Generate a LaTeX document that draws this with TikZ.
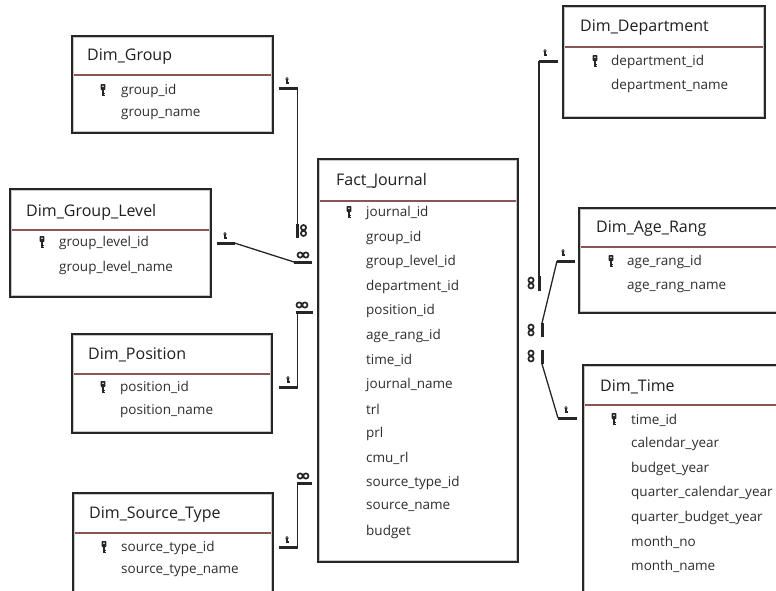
\documentclass[tikz,border=0pt]{standalone}
\usepackage{fontspec}
\setmainfont{Open Sans}
\usetikzlibrary{calc}
\tikzset{
  tbl/.style={draw=black!85, line width=1.5pt, fill=white, inner sep=0pt, anchor=north west},
  inr/.style={draw=black!22, line width=1pt},
  sepl/.style={draw={rgb,255:red,140;green,85;blue,85}, line width=1.3pt},
  ttl/.style={anchor=west, inner sep=0pt, font=\fontsize{16}{17}\selectfont, text=black!88},
  fld/.style={anchor=west, inner sep=0pt, font=\fontsize{13.5}{14}\selectfont, text=black!82},
  conn/.style={draw=black!85, line width=1.3pt},
  stub/.style={draw=black!85, line width=3pt},
  keyicon/.pic={
    \fill[black!85, rounded corners=0.8pt] (-2.4,-6.5) rectangle (2.4,-0.5);
    \fill[black!85] (-1.1,-1) rectangle (1.1,5.5);
    \fill[black!85] (1,2) rectangle (2.4,3.2);
    \fill[black!85] (1,4) rectangle (2.4,5.2);
    \fill[white] (0,-4.3) circle (0.9);
  },
  infsym/.pic={
    \draw[black!85, line width=1.7pt] (-2.9,0) circle (2.6) (2.9,0) circle (2.6);
  }
}
\begin{document}
\begin{tikzpicture}[x=1pt,y=-1pt]
\useasboundingbox (0,0) rectangle (776,590);
\clip (0,0) rectangle (776,590);

% ---------- tables ----------
% Dim_Group
\node[tbl, minimum width=201pt, minimum height=97pt] (dg) at (71,35) {};
\draw[inr] ([shift={(2.5,2.5)}]dg.north west) rectangle ([shift={(-2.5,-2.5)}]dg.south east);
\draw[sepl] ([xshift=3pt]dg.west |- 0,75) -- ([xshift=-3pt]dg.east |- 0,75);
\node[ttl] (dg-t) at (87,57) {Dim\_Group};
\pic at (103,90.5) {keyicon};
\node[fld] (dg-1) at (121,91) {group\_id};
\node[fld] (dg-2) at (121,114.5) {group\_name};

% Dim_Group_Level
\node[tbl, minimum width=201pt, minimum height=108pt] (dgl) at (9,188) {};
\draw[inr] ([shift={(2.5,2.5)}]dgl.north west) rectangle ([shift={(-2.5,-2.5)}]dgl.south east);
\draw[sepl] ([xshift=3pt]dgl.west |- 0,230) -- ([xshift=-3pt]dgl.east |- 0,230);
\node[ttl] (dgl-t) at (26,212) {Dim\_Group\_Level};
\pic at (42,242.5) {keyicon};
\node[fld] (dgl-1) at (59,243) {group\_level\_id};
\node[fld] (dgl-2) at (59,268) {group\_level\_name};

% Dim_Position
\node[tbl, minimum width=200pt, minimum height=99pt] (dp) at (71,333) {};
\draw[inr] ([shift={(2.5,2.5)}]dp.north west) rectangle ([shift={(-2.5,-2.5)}]dp.south east);
\draw[sepl] ([xshift=3pt]dp.west |- 0,374) -- ([xshift=-3pt]dp.east |- 0,374);
\node[ttl] (dp-t) at (88,355) {Dim\_Position};
\pic at (103,387.5) {keyicon};
\node[fld] (dp-1) at (120,388) {position\_id};
\node[fld] (dp-2) at (120,411) {position\_name};

% Dim_Source_Type
\node[tbl, minimum width=200pt, minimum height=110pt] (ds) at (72,492) {};
\draw[inr] ([shift={(2.5,2.5)}]ds.north west) rectangle ([shift={(-2.5,-2.5)}]ds.south east);
\draw[sepl] ([xshift=3pt]ds.west |- 0,533) -- ([xshift=-3pt]ds.east |- 0,533);
\node[ttl] (ds-t) at (89,515) {Dim\_Source\_Type};
\pic at (104,547.5) {keyicon};
\node[fld] (ds-1) at (121,548) {source\_type\_id};
\node[fld] (ds-2) at (121,570.5) {source\_type\_name};

% Fact_Journal
\node[tbl, minimum width=200pt, minimum height=403pt] (fj) at (317,158) {};
\draw[inr] ([shift={(2.5,2.5)}]fj.north west) rectangle ([shift={(-2.5,-2.5)}]fj.south east);
\draw[sepl] ([xshift=3pt]fj.west |- 0,201) -- ([xshift=-3pt]fj.east |- 0,201);
\node[ttl] (fj-t) at (336,181) {Fact\_Journal};
\pic at (349,212.5) {keyicon};
\foreach \t [count=\i from 0] in {journal\_id, group\_id, group\_level\_id, department\_id,
  position\_id, age\_rang\_id, time\_id, journal\_name, trl, prl, cmu\_rl,
  source\_type\_id, source\_name, budget}
  \node[fld] (fj-\i) at (366,213+24.5*\i) {\t};

% Dim_Department
\node[tbl, minimum width=202pt, minimum height=112pt] (dd) at (562,5) {};
\draw[inr] ([shift={(2.5,2.5)}]dd.north west) rectangle ([shift={(-2.5,-2.5)}]dd.south east);
\draw[sepl] ([xshift=3pt]dd.west |- 0,47) -- ([xshift=-3pt]dd.east |- 0,47);
\node[ttl] (dd-t) at (580,28) {Dim\_Department};
\pic at (595,61.5) {keyicon};
\node[fld] (dd-1) at (611,62) {department\_id};
\node[fld] (dd-2) at (611,86) {department\_name};

% Dim_Age_Rang
\node[tbl, minimum width=212pt, minimum height=105pt] (da) at (578,207) {};
\draw[inr] ([shift={(2.5,2.5)}]da.north west) rectangle ([shift={(-2.5,-2.5)}]da.south east);
\draw[sepl] ([xshift=3pt]da.west |- 0,247) -- ([xshift=-3pt]da.east |- 0,247);
\node[ttl] (da-t) at (596,229) {Dim\_Age\_Rang};
\pic at (611,261.5) {keyicon};
\node[fld] (da-1) at (627,262) {age\_rang\_id};
\node[fld] (da-2) at (627,287) {age\_rang\_name};

% Dim_Time
\node[tbl, minimum width=208pt, minimum height=236pt] (dt) at (582,364) {};
\draw[inr] ([shift={(2.5,2.5)}]dt.north west) rectangle ([shift={(-2.5,-2.5)}]dt.south east);
\draw[sepl] ([xshift=3pt]dt.west |- 0,405) -- ([xshift=-3pt]dt.east |- 0,405);
\node[ttl] (dt-t) at (600,387) {Dim\_Time};
\pic at (614,419.5) {keyicon};
\foreach \t [count=\i from 0] in {time\_id, calendar\_year, budget\_year,
  quarter\_calendar\_year, quarter\_budget\_year, month\_no, month\_name}
  \node[fld] (dt-\i) at (631,420+24.4*\i) {\t};

% ---------- relationships ----------
% Dim_Group -> Fact (group_id)
\draw[stub] ([xshift=5pt]dg.east |- 0,88) -- ++(19,0) coordinate (c1b);
\pic[scale=0.55] at (287,81) {keyicon};
\draw[conn] (c1b) -- (c1b |- 0,238) coordinate (c1c);
\draw[stub] (c1c) -- ++(0,-14);
\pic[rotate=90] at (303.5,230.5) {infsym};

% Dim_Group_Level -> Fact (group_level_id)
\draw[stub] ([xshift=5pt]dgl.east |- 0,243) -- ++(18,0) coordinate (c2b);
\pic[scale=0.55] at (225,236) {keyicon};
\coordinate (c2c) at (294,262);
\draw[conn] (c2b) -- (c2c);
\draw[stub] (c2c) -- ([xshift=-5pt]fj.west |- 0,262);
\pic at (303,255) {infsym};

% Dim_Position -> Fact (position_id)
\draw[stub] ([xshift=6pt]dp.east |- 0,387) -- ++(19,0) coordinate (c3b);
\pic[scale=0.55] at (288,380) {keyicon};
\draw[conn] (c3b) -- (c3b |- 0,312) coordinate (c3c);
\draw[stub] ([xshift=-2pt]c3c) -- ([xshift=-4pt]fj.west |- 0,312);
\pic at (302,305) {infsym};

% Dim_Source_Type -> Fact (source_type_id)
\draw[stub] ([xshift=5pt]ds.east |- 0,547) -- ++(19,0) coordinate (c4b);
\pic[scale=0.55] at (287,540) {keyicon};
\draw[conn] (c4b) -- (c4b |- 0,483) coordinate (c4c);
\draw[stub] ([xshift=-1pt]c4c) -- ([xshift=-5pt]fj.west |- 0,483);
\pic at (303,476) {infsym};

% Dim_Department -> Fact (department_id)
\draw[stub] ([xshift=-4pt]dd.west |- 0,61) -- ++(-19,0) coordinate (c5b);
\pic[scale=0.55] at (545,53) {keyicon};
\draw[conn] (c5b) -- (c5b |- 0,291) coordinate (c5c);
\draw[stub] (c5c) -- ++(0,-15);
\pic[rotate=90] at (531,283) {infsym};

% Dim_Age_Rang -> Fact (age_rang_id)
\draw[stub] ([xshift=-3pt]da.west |- 0,261) -- ++(-18,0) coordinate (c6b);
\pic[scale=0.55] at (563,253) {keyicon};
\coordinate (c6c) at (542,323);
\draw[conn] (c6b) -- (c6c);
\draw[stub] (c6c) -- ++(0,14);
\pic[rotate=90] at (531,330) {infsym};

% Dim_Time -> Fact (time_id)
\coordinate (c7a) at (542,350);
\draw[stub] (c7a) -- ++(0,14) coordinate (c7b);
\pic[rotate=90] at (531,356) {infsym};
\draw[stub] ([xshift=-5pt]dt.west |- 0,418) -- ++(-19,0) coordinate (c7c);
\pic[scale=0.55] at (566,410) {keyicon};
\draw[conn] (c7b) -- (c7c);
\end{tikzpicture}
\end{document}
